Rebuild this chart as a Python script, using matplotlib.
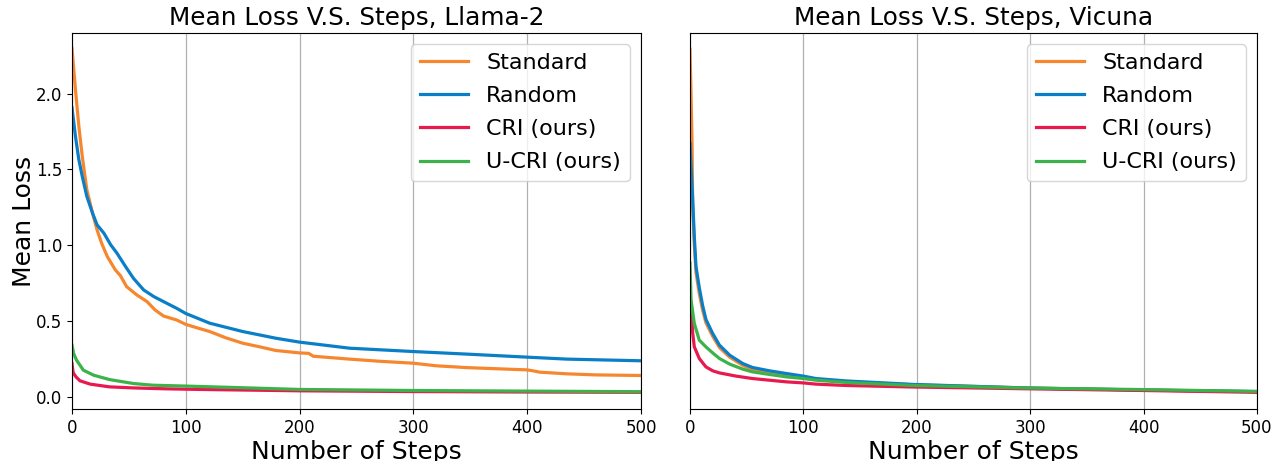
import matplotlib
matplotlib.use("Agg")
import matplotlib.pyplot as plt

# ---- Left: Llama-2 ----
l_std_steps = [0, 3, 6, 9, 13, 18, 22, 26, 31, 38, 42.5, 48, 57, 66, 73, 80.5, 92, 100, 110, 121, 135, 150, 165, 179, 200, 208, 212, 244, 270, 300, 320, 347, 375, 400, 405, 411, 435, 460, 500]
l_std_vals = [2.298, 2.03, 1.786, 1.588, 1.367, 1.213, 1.102, 1.014, 0.926, 0.838, 0.80, 0.727, 0.672, 0.628, 0.573, 0.533, 0.507, 0.478, 0.455, 0.431, 0.39, 0.354, 0.33, 0.306, 0.29, 0.287, 0.268, 0.249, 0.235, 0.222, 0.205, 0.193, 0.185, 0.178, 0.172, 0.163, 0.152, 0.145, 0.141]
l_rnd_steps = [0, 3, 6, 9, 13, 18, 22, 28, 34, 39.5, 47, 54, 63, 72, 80.5, 92, 100, 121, 150, 179, 200, 244, 300, 347, 400, 435, 500]
l_rnd_vals = [1.907, 1.72, 1.565, 1.455, 1.323, 1.213, 1.135, 1.08, 1.003, 0.948, 0.86, 0.782, 0.705, 0.661, 0.628, 0.584, 0.55, 0.486, 0.431, 0.387, 0.361, 0.321, 0.299, 0.282, 0.262, 0.249, 0.238]
l_cri_steps = [0, 1, 3.5, 7, 16, 33, 54, 83, 112, 200, 300, 400, 500]
l_cri_vals = [0.22, 0.16, 0.132, 0.106, 0.084, 0.066, 0.059, 0.053, 0.049, 0.040, 0.035, 0.032, 0.030]
l_ucri_steps = [0, 1.5, 4, 10, 19, 33, 54, 71, 101, 142, 200, 300, 400, 500]
l_ucri_vals = [0.341, 0.285, 0.242, 0.176, 0.143, 0.114, 0.088, 0.077, 0.071, 0.062, 0.049, 0.042, 0.038, 0.034]

# ---- Right: Vicuna ----
r_std_steps = [0, 0.9, 1.8, 2.4, 3.8, 5.3, 8.2, 11.2, 14, 20, 26, 35, 46.5, 55, 70, 85, 100, 111, 138, 197, 300, 400, 500]
r_std_vals = [2.293, 2.0, 1.675, 1.25, 1.0, 0.82, 0.68, 0.57, 0.49, 0.40, 0.325, 0.262, 0.208, 0.18, 0.16, 0.142, 0.128, 0.115, 0.10, 0.08, 0.058, 0.045, 0.034]
r_rnd_steps = [0, 2.4, 3.8, 5.3, 8.2, 11.2, 14.1, 20, 26, 35, 46.5, 55, 70, 85, 100, 111, 138, 197, 300, 400, 500]
r_rnd_vals = [1.67, 1.30, 1.056, 0.858, 0.72, 0.60, 0.51, 0.418, 0.341, 0.275, 0.22, 0.194, 0.172, 0.154, 0.137, 0.121, 0.105, 0.082, 0.058, 0.045, 0.035]
r_cri_steps = [0, 0.9, 2.4, 3.8, 8.2, 14, 20, 26, 40.6, 55, 70, 85, 100, 111, 138, 197, 300, 400, 500]
r_cri_vals = [0.684, 0.60, 0.418, 0.33, 0.253, 0.198, 0.172, 0.158, 0.137, 0.121, 0.11, 0.099, 0.092, 0.084, 0.075, 0.065, 0.053, 0.042, 0.030]
r_ucri_steps = [0, 0.9, 3.8, 8.2, 14, 20, 26, 35, 46.5, 55, 70, 85, 100, 111, 138, 197, 300, 400, 500]
r_ucri_vals = [0.882, 0.64, 0.484, 0.374, 0.33, 0.29, 0.253, 0.216, 0.183, 0.165, 0.148, 0.132, 0.121, 0.11, 0.095, 0.075, 0.058, 0.048, 0.036]

labels = ["Standard", "Random", "CRI (ours)", "U-CRI (ours)"]
colors = ["#F7872E", "#0A7FC7", "#E8194F", "#3CB34A"]
titles = ["Mean Loss V.S. Steps, Llama-2", "Mean Loss V.S. Steps, Vicuna"]
xticks = [0, 100, 200, 300, 400, 500]

fig = plt.figure(figsize=(12.76, 4.61), dpi=100)
ax1 = fig.add_axes([72/1276, 52/461, 569/1276, 376/461])
ax2 = fig.add_axes([690/1276, 52/461, 567/1276, 376/461], sharey=ax1)

left = [(l_std_steps, l_std_vals), (l_rnd_steps, l_rnd_vals), (l_cri_steps, l_cri_vals), (l_ucri_steps, l_ucri_vals)]
right = [(r_std_steps, r_std_vals), (r_rnd_steps, r_rnd_vals), (r_cri_steps, r_cri_vals), (r_ucri_steps, r_ucri_vals)]

for ax, data, title in [(ax1, left, titles[0]), (ax2, right, titles[1])]:
    for (s, v), lab, c in zip(data, labels, colors):
        ax.plot(s, v, color=c, lw=2.3, label=lab)
    ax.set_xlim(0, 500)
    ax.set_xticks(xticks)
    ax.grid(axis="x", color="#b0b0b0", lw=0.9)
    ax.set_title(title, fontsize=17.8)
    ax.set_xlabel("Number of Steps", fontsize=18, labelpad=2)
    ax.tick_params(labelsize=12)
    ax.legend(loc="upper right", fontsize=16, handlelength=2.2, labelspacing=0.59)

ax1.set_ylim(-0.08, 2.40)
ax1.set_yticks([0.0, 0.5, 1.0, 1.5, 2.0])
ax1.set_ylabel("Mean Loss", fontsize=18, labelpad=0)
ax2.tick_params(axis="y", left=False, labelleft=False)

fig.savefig("out.png", dpi=100)
